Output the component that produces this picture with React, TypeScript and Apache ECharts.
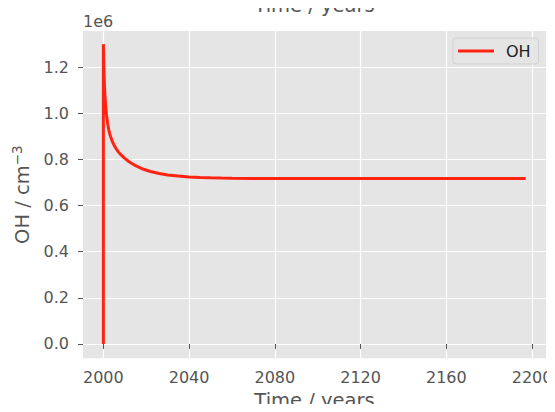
import React, { useEffect, useRef } from "react";
import * as echarts from "echarts";

const years: number[] = [
  2000, 2000, 2000.1, 2000.25, 2000.5, 2000.75, 2001, 2001.5, 2002, 2002.5, 2003,
  2004, 2005, 2006, 2007, 2008, 2010, 2012, 2015, 2018, 2022, 2026, 2030, 2035,
  2040, 2045, 2050, 2055, 2060, 2070, 2080, 2100, 2120, 2150, 2197,
];
const ohValues: number[] = [
  0, 1.3e6, 1.265e6, 1.2e6, 1.125e6, 1.075e6, 1.04e6, 0.99e6, 0.955e6, 0.93e6,
  0.91e6, 0.882e6, 0.862e6, 0.846e6, 0.833e6, 0.822e6, 0.805e6, 0.79e6,
  0.773e6, 0.76e6, 0.748e6, 0.739e6, 0.733e6, 0.728e6, 0.7245e6, 0.722e6,
  0.7205e6, 0.7193e6, 0.7185e6, 0.7175e6, 0.717e6, 0.717e6, 0.717e6, 0.717e6,
  0.717e6,
];
const xTicks: number[] = [2000, 2040, 2080, 2120, 2160, 2200];
const yTicks: number[] = [0, 0.2e6, 0.4e6, 0.6e6, 0.8e6, 1.0e6, 1.2e6];
const seriesName = "OH";

const FONT = "DejaVu Sans";
const TXT = "#555555";

export default function App() {
  const ref = useRef<HTMLDivElement>(null);
  useEffect(() => {
    if (!ref.current) return;
    const chart = echarts.init(ref.current, undefined, { renderer: "svg" });
    const data = years.map((y, i) => [y, ohValues[i]]);
    chart.setOption({
      animation: false,
      backgroundColor: "#ffffff",
      textStyle: { fontFamily: FONT },
      grid: {
        left: 83,
        top: 31,
        width: 463,
        height: 327.3,
        show: true,
        backgroundColor: "#E5E5E5",
        borderWidth: 0,
        containLabel: false,
        outerBoundsMode: "none",
      },
      legend: {
        left: 453,
        top: 38,
        icon: "rect",
        itemWidth: 36,
        itemHeight: 3,
        padding: [5, 8, 5, 5],
        backgroundColor: "rgba(229,229,229,0.8)",
        borderColor: "rgba(204,204,204,0.8)",
        borderWidth: 1,
        borderRadius: 3,
        textStyle: {
          fontFamily: FONT,
          fontSize: 16,
          color: "#222222",
          padding: [0, 0, 0, 7],
        },
        data: [seriesName],
      },
      graphic: [
        {
          type: "text",
          x: 83,
          y: 21,
          style: {
            text: "1e6",
            fontFamily: FONT,
            fontSize: 16,
            fill: TXT,
            textAlign: "left",
            textVerticalAlign: "middle",
          },
        },
        {
          type: "text",
          x: 314.5,
          y: 5,
          style: {
            text: "Time / years",
            fontFamily: FONT,
            fontSize: 19.5,
            fill: TXT,
            textAlign: "center",
            textVerticalAlign: "middle",
          },
        },
      ],
      xAxis: {
        type: "value",
        min: 1990.5,
        max: 2206.5,
        name: "Time / years",
        nameLocation: "middle",
        nameGap: 32,
        nameTextStyle: { fontFamily: FONT, fontSize: 19.5, color: TXT },
        axisLine: { show: false },
        axisTick: {
          show: true,
          length: 5,
          lineStyle: { color: TXT, width: 1 },
          customValues: xTicks,
        },
        axisLabel: {
          fontFamily: FONT,
          fontSize: 16,
          color: TXT,
          margin: 11,
          customValues: xTicks,
          formatter: (v: number) => String(v),
        },
        splitLine: { show: true, lineStyle: { color: "#ffffff", width: 1.2 } },
      },
      yAxis: {
        type: "value",
        min: -0.062e6,
        max: 1.357e6,
        name: "{a|OH / cm}{b|−3}",
        nameLocation: "middle",
        nameRotate: 90,
        nameGap: 42,
        nameTextStyle: {
          fontFamily: FONT,
          fontSize: 19.5,
          color: TXT,
          rich: {
            a: { fontFamily: FONT, fontSize: 19.5, color: TXT, lineHeight: 26 },
            b: {
              fontFamily: FONT,
              fontSize: 13.5,
              color: TXT,
              lineHeight: 14,
              verticalAlign: "top",
            },
          },
        },
        axisLine: { show: false },
        axisTick: {
          show: true,
          length: 5,
          lineStyle: { color: TXT, width: 1 },
          customValues: yTicks,
        },
        axisLabel: {
          fontFamily: FONT,
          fontSize: 16,
          color: TXT,
          margin: 14,
          customValues: yTicks,
          formatter: (v: number) => (v / 1e6).toFixed(1),
        },
        splitLine: { show: true, lineStyle: { color: "#ffffff", width: 1.2 } },
      },
      series: [
        {
          name: seriesName,
          type: "line",
          data,
          showSymbol: false,
          symbol: "none",
          smooth: false,
          lineStyle: { color: "#ff2412", width: 3 },
          itemStyle: { color: "#ff2412" },
        },
      ],
    });
    return () => chart.dispose();
  }, []);
  return <div ref={ref} style={{ width: 555, height: 412, margin: -8 }} />;
}
